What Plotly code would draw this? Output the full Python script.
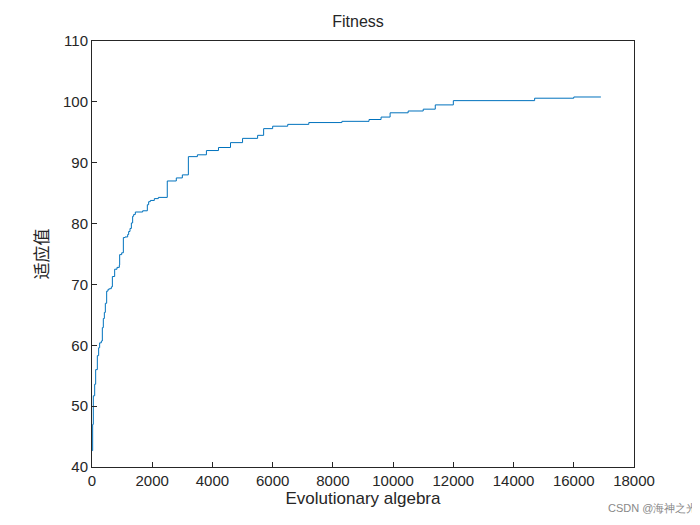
import plotly.graph_objects as go

gen = [0, 22, 44, 89, 122, 177, 221, 254, 310, 343, 376, 410, 443, 487, 532, 576, 642, 676, 753, 830, 908, 919, 986, 1041, 1096, 1185, 1218, 1262, 1307, 1350, 1384, 1439, 1683, 1838, 1882, 1937, 2070, 2203, 2500, 2800, 3000, 3200, 3500, 3800, 4200, 4600, 5000, 5500, 5700, 6000, 6500, 7200, 8300, 9200, 9600, 9900, 10500, 11000, 11400, 12000, 14700, 16000, 16900]
fit = [42.7, 47.0, 51.7, 53.6, 56.0, 58.3, 59.6, 60.4, 60.7, 62.9, 64.4, 65.4, 66.9, 68.9, 69.2, 69.3, 69.6, 71.3, 72.5, 72.8, 73.2, 74.9, 75.2, 77.7, 77.8, 78.2, 78.7, 79.2, 80.1, 81.2, 81.5, 81.9, 82.1, 83.1, 83.6, 83.8, 84.1, 84.3, 87.0, 87.5, 88.0, 91.0, 91.3, 92.0, 92.5, 93.3, 94.0, 94.5, 95.6, 96.0, 96.3, 96.6, 96.8, 97.1, 97.5, 98.2, 98.5, 98.8, 99.5, 100.2, 100.6, 100.8, 100.8]

fig = go.Figure(go.Scatter(x=gen, y=fit, mode="lines", line=dict(color="#0072BD", width=1, shape="hv")))
ax = dict(showline=True, linecolor="#262626", mirror=True, ticks="inside", ticklen=5, tickcolor="#262626",
          showgrid=False, zeroline=False, tickfont=dict(size=15, color="#262626"))
fig.update_layout(
    width=700, height=525, paper_bgcolor="white", plot_bgcolor="white", showlegend=False,
    font=dict(family="Liberation Sans, Arial", color="#262626"),
    margin=dict(l=84, r=74, t=33, b=66),
    title=dict(text="Fitness", x=0.5, xanchor="center", y=0.985, yanchor="top", font=dict(size=16)),
    xaxis=dict(ax, range=[0, 18000], dtick=2000, tickformat="d", title=dict(text="Evolutionary algebra", font=dict(size=17), standoff=4)),
    yaxis=dict(ax, range=[40, 110], dtick=10, title=dict(text="适应值", font=dict(size=17, family="Noto Sans CJK SC"), standoff=10)),
)
fig.add_annotation(text="CSDN @海神之光", xref="paper", yref="paper", x=1.12, y=-0.115, xanchor="right", showarrow=False,
                   font=dict(size=11, color="#888"))
fig.write_html("out.html")
